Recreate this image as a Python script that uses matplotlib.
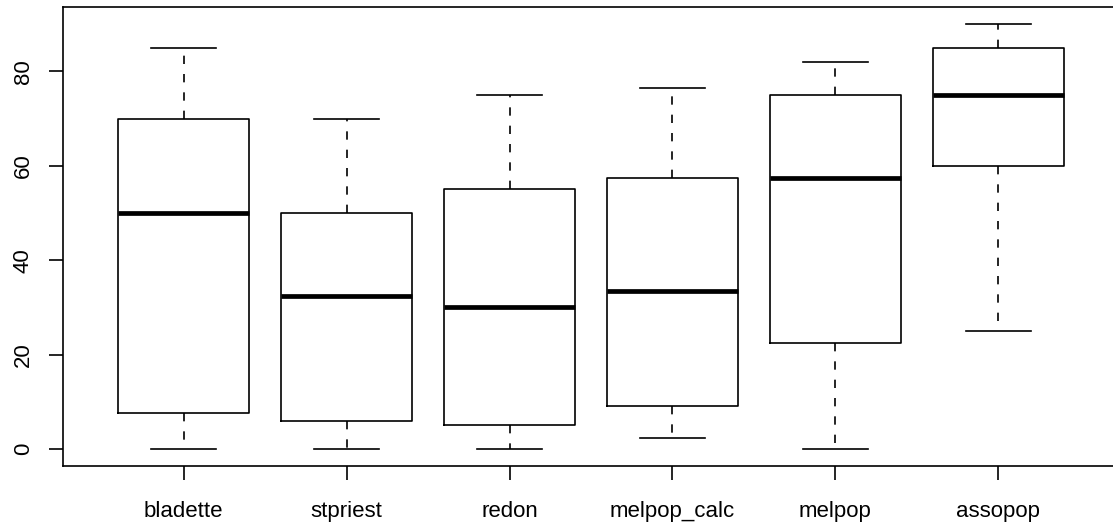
"""Boxplot of six sites, base-R look"""

import matplotlib

matplotlib.use("Agg")
import matplotlib.pyplot as plt  # type: ignore

plt.rcParams["font.family"] = ["Liberation Sans", "DejaVu Sans"]

labels = ["bladette", "stpriest", "redon", "melpop_calc", "melpop", "assopop"]
whisker_low = [0, 0, 0, 2.3, 0, 25]
q1 = [7.6, 6.0, 5.1, 9.2, 22.5, 60]
median = [50, 32.5, 30, 33.5, 57.5, 75]
q3 = [70, 50, 55, 57.5, 75, 85]
whisker_high = [85, 70, 75, 76.5, 82, 90]


def main():
    stats = []
    for lab, lo, a, m, b, hi in zip(labels, whisker_low, q1, median, q3, whisker_high):
        stats.append({"label": lab, "whislo": lo, "q1": a, "med": m, "q3": b,
                      "whishi": hi, "fliers": []})

    fig = plt.figure(figsize=(11.13, 5.30), dpi=100)
    ax = fig.add_axes([63 / 1113, 64 / 530, 1056 / 1113, 458.7 / 530])

    ax.bxp(stats, positions=range(1, len(labels) + 1), widths=0.8,
           showfliers=False, capwidths=0.4,
           boxprops={"color": "black", "linewidth": 1.2},
           medianprops={"color": "black", "linewidth": 3.4, "solid_capstyle": "butt"},
           whiskerprops={"color": "black", "linewidth": 1.2, "linestyle": (0, (5, 6))},
           capprops={"color": "black", "linewidth": 1.2})

    ax.set_xlim(0.26, 6.74)
    ax.set_ylim(-3.6, 93.6)
    ax.set_yticks([0, 20, 40, 60, 80])
    ax.set_xticks(range(1, len(labels) + 1))
    ax.set_xticklabels(labels)
    ax.tick_params(axis="both", length=10, width=1.2, labelsize=16, direction="out")
    ax.tick_params(axis="y", pad=11)
    ax.tick_params(axis="x", pad=15)
    for t in ax.get_yticklabels():
        t.set_rotation(90)
        t.set_va("center")
    for s in ax.spines.values():
        s.set_linewidth(1.2)

    fig.savefig("out.png", dpi=100)


if __name__ == "__main__":
    main()
